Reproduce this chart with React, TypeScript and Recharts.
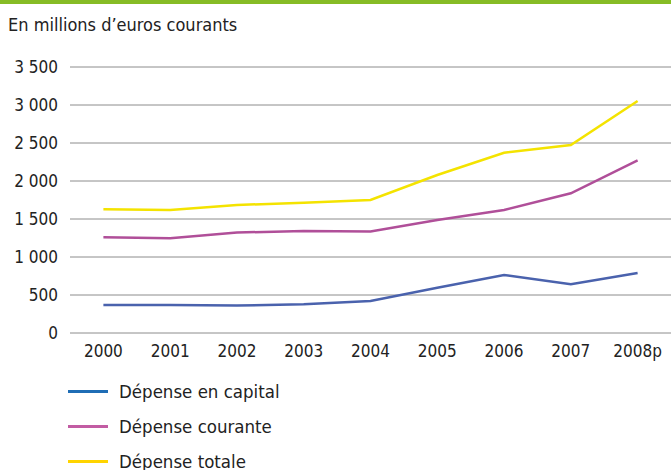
import { LineChart, Line, XAxis, YAxis, CartesianGrid } from "recharts";

const years = ["2000", "2001", "2002", "2003", "2004", "2005", "2006", "2007", "2008p"];
const capital = [370, 370, 362, 378, 421, 596, 763, 641, 789];
const courante = [1259, 1248, 1322, 1342, 1335, 1487, 1618, 1838, 2272];
const totale = [1628, 1618, 1684, 1714, 1750, 2079, 2372, 2474, 3053];
const yTicks = [0, 500, 1000, 1500, 2000, 2500, 3000, 3500];
const boundaryTicks = [0, 1, 2, 3, 4, 5, 6, 7, 8, 9];

const series = [
  { key: "capital", name: "Dépense en capital", color: "#4a62ad", legendColor: "#1f6db5" },
  { key: "courante", name: "Dépense courante", color: "#b04f99", legendColor: "#c25ca3" },
  { key: "totale", name: "Dépense totale", color: "#f4e300", legendColor: "#ffd400" },
];

const data = years.map((year, i) => ({
  year,
  idx: i + 0.5,
  capital: capital[i],
  courante: courante[i],
  totale: totale[i],
}));

const FONT = "'Liberation Sans Narrow', 'DejaVu Sans Condensed', 'Roboto Condensed', sans-serif";

const fmt = (v: number) => (v >= 1000 ? `${Math.floor(v / 1000)} ${String(v % 1000).padStart(3, "0")}` : `${v}`);

export default function App() {
  return (
    <div style={{ position: "absolute", left: 0, top: 0, width: 671, height: 470, background: "#fff", fontFamily: FONT, color: "#222" }}>
      <div style={{ position: "absolute", left: 0, top: 0, width: 671, height: 4, background: "#86bc25" }} />
      <div style={{ position: "absolute", left: 8, top: 14, fontSize: 18 }}>En millions d’euros courants</div>
      <div style={{ position: "absolute", left: 0, top: 0 }}>
        <LineChart width={671} height={370} data={data} margin={{ top: 67, right: 0, left: 0, bottom: 0 }}>
          <CartesianGrid vertical={false} stroke="#8c8c8c" strokeWidth={1} />
          <XAxis
            xAxisId="grid"
            dataKey="idx"
            type="number"
            domain={[0, years.length]}
            ticks={boundaryTicks}
            tickFormatter={() => ""}
            height={0}
            tickSize={5}
            stroke="#8c8c8c"
            axisLine={{ stroke: "#8c8c8c" }}
            tickLine={{ stroke: "#8c8c8c" }}
          />
          <XAxis
            xAxisId="cat"
            dataKey="year"
            scale="band"
            height={37}
            axisLine={false}
            tickLine={false}
            tickSize={0}
            tickMargin={12}
            interval={0}
            tick={{ fill: "#222", fontSize: 17, fontFamily: FONT }}
          />
          <YAxis
            domain={[0, 3500]}
            ticks={yTicks}
            width={70}
            axisLine={false}
            tickLine={false}
            tickSize={0}
            tickMargin={12}
            tickFormatter={fmt}
            tick={{ fill: "#222", fontSize: 17, fontFamily: FONT }}
          />
          {series.map((s) => (
            <Line
              key={s.key}
              xAxisId="cat"
              type="linear"
              dataKey={s.key}
              name={s.name}
              stroke={s.color}
              strokeWidth={2.5}
              dot={false}
              isAnimationActive={false}
            />
          ))}
        </LineChart>
      </div>
      {series.map((s, i) => (
        <div key={s.key} style={{ position: "absolute", left: 68, top: 380 + i * 35, height: 22, display: "flex", alignItems: "center" }}>
          <div style={{ width: 40, height: 3, background: s.legendColor }} />
          <span style={{ marginLeft: 11, fontSize: 18.5 }}>{s.name}</span>
        </div>
      ))}
    </div>
  );
}
